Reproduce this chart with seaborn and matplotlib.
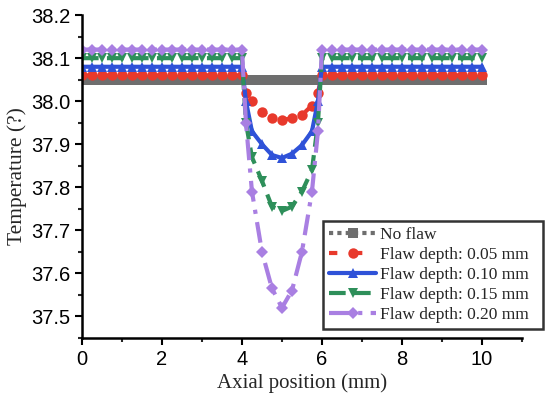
import numpy as np
import pandas as pd
import matplotlib
matplotlib.use('Agg')
import matplotlib.pyplot as plt
import seaborn as sns
from matplotlib.ticker import MultipleLocator

# ----------------------------
# data
# ----------------------------
x_left = [0, 0.25, 0.5, 0.75, 1.0, 1.25, 1.5, 1.75, 2.0, 2.25, 2.5, 2.75,
          3.0, 3.25, 3.5, 3.75, 4.0]
x_dip = [4.1, 4.25, 4.5, 4.75, 5.0, 5.25, 5.5, 5.75, 5.9]
x_right = [6.0, 6.25, 6.5, 6.75, 7.0, 7.25, 7.5, 7.75, 8.0, 8.25, 8.5, 8.75,
           9.0, 9.25, 9.5, 9.75, 10.0]
x_pos = x_left + x_dip + x_right

base_no_flaw = 38.05
base_005 = 38.06
base_010 = 38.08
base_015 = 38.10
base_020 = 38.12

dip_no_flaw = [38.05, 38.05, 38.05, 38.05, 38.05, 38.05, 38.05, 38.05, 38.05]
dip_005 = [38.02, 38.00, 37.975, 37.96, 37.957, 37.96, 37.968, 37.99, 38.02]
dip_010 = [38.00, 37.93, 37.90, 37.875, 37.868, 37.878, 37.898, 37.93, 38.00]
dip_015 = [37.95, 37.87, 37.815, 37.755, 37.745, 37.755, 37.79, 37.84, 37.95]
dip_020 = [37.95, 37.79, 37.65, 37.565, 37.52, 37.56, 37.65, 37.79, 37.93]

labels = ['No flaw', 'Flaw depth: 0.05 mm', 'Flaw depth: 0.10 mm',
          'Flaw depth: 0.15 mm', 'Flaw depth: 0.20 mm']
bases = [base_no_flaw, base_005, base_010, base_015, base_020]
dips = [dip_no_flaw, dip_005, dip_010, dip_015, dip_020]

colors = ['#6e6e6e', '#e8392c', '#2f52d8', '#2e8f5a', '#a97fe2']
markers = ['s', 'o', '^', 'v', 'D']
styles = [(0, (1, 1)), (0, (2, 4)), '-', (0, (4, 2)), (0, (5, 2, 1, 2))]
msizes = [7, 7.5, 7.5, 7.5, 6.5]

frames = []
for lab, b, d in zip(labels, bases, dips):
    temps = [b] * len(x_left) + d + [b] * len(x_right)
    frames.append(pd.DataFrame({'x': x_pos, 'T': temps, 'series': lab}))
df = pd.concat(frames, ignore_index=True)

# ----------------------------
# plot
# ----------------------------
sns.set_style('ticks')
plt.rcParams['font.family'] = ['Liberation Sans', 'DejaVu Sans']

fig = plt.figure(figsize=(5.5, 3.98), dpi=100)
ax = fig.add_axes([0.149, 0.151, 0.8, 0.811])

for lab, c, m, ls, ms in zip(labels, colors, markers, styles, msizes):
    sub = df[df['series'] == lab]
    sns.lineplot(data=sub, x='x', y='T', ax=ax, color=c, marker=m,
                 linestyle=ls, linewidth=3, markersize=ms,
                 markeredgewidth=0, label=lab, sort=False)

ax.set_xlim(0, 11)
ax.set_ylim(37.45, 38.2)
ax.xaxis.set_major_locator(MultipleLocator(2))
ax.xaxis.set_minor_locator(MultipleLocator(1))
ax.yaxis.set_major_locator(MultipleLocator(0.1))
ax.yaxis.set_minor_locator(MultipleLocator(0.05))
ax.yaxis.set_major_formatter(matplotlib.ticker.FormatStrFormatter('%.1f'))

for side in ['top', 'right']:
    ax.spines[side].set_visible(False)
for side in ['left', 'bottom']:
    ax.spines[side].set_linewidth(1.8)
    ax.spines[side].set_color('black')

ax.tick_params(which='major', length=5, width=1.5, labelsize=14.5,
               direction='out', colors='black')
ax.tick_params(which='minor', length=3, width=1.5, direction='out')

ax.set_xlabel('Axial position (mm)', family='Liberation Serif', fontsize=15,
              labelpad=3)
ax.set_ylabel('Temperature (?)', family='Liberation Serif', fontsize=15.5,
              labelpad=3)

leg = ax.legend(loc='lower left', bbox_to_anchor=(323 / 550, 1 - 329 / 398,
                                                  220 / 550, 115 / 398),
                bbox_transform=fig.transFigure, mode='expand',
                prop={'family': 'Liberation Serif', 'size': 12.5},
                frameon=True, fancybox=False, handlelength=2.7,
                handletextpad=0.25, labelspacing=0.22, borderpad=0.35,
                borderaxespad=0)
leg.get_frame().set_edgecolor('black')
leg.get_frame().set_linewidth(1.8)

fig.savefig('out.png', dpi=100)
